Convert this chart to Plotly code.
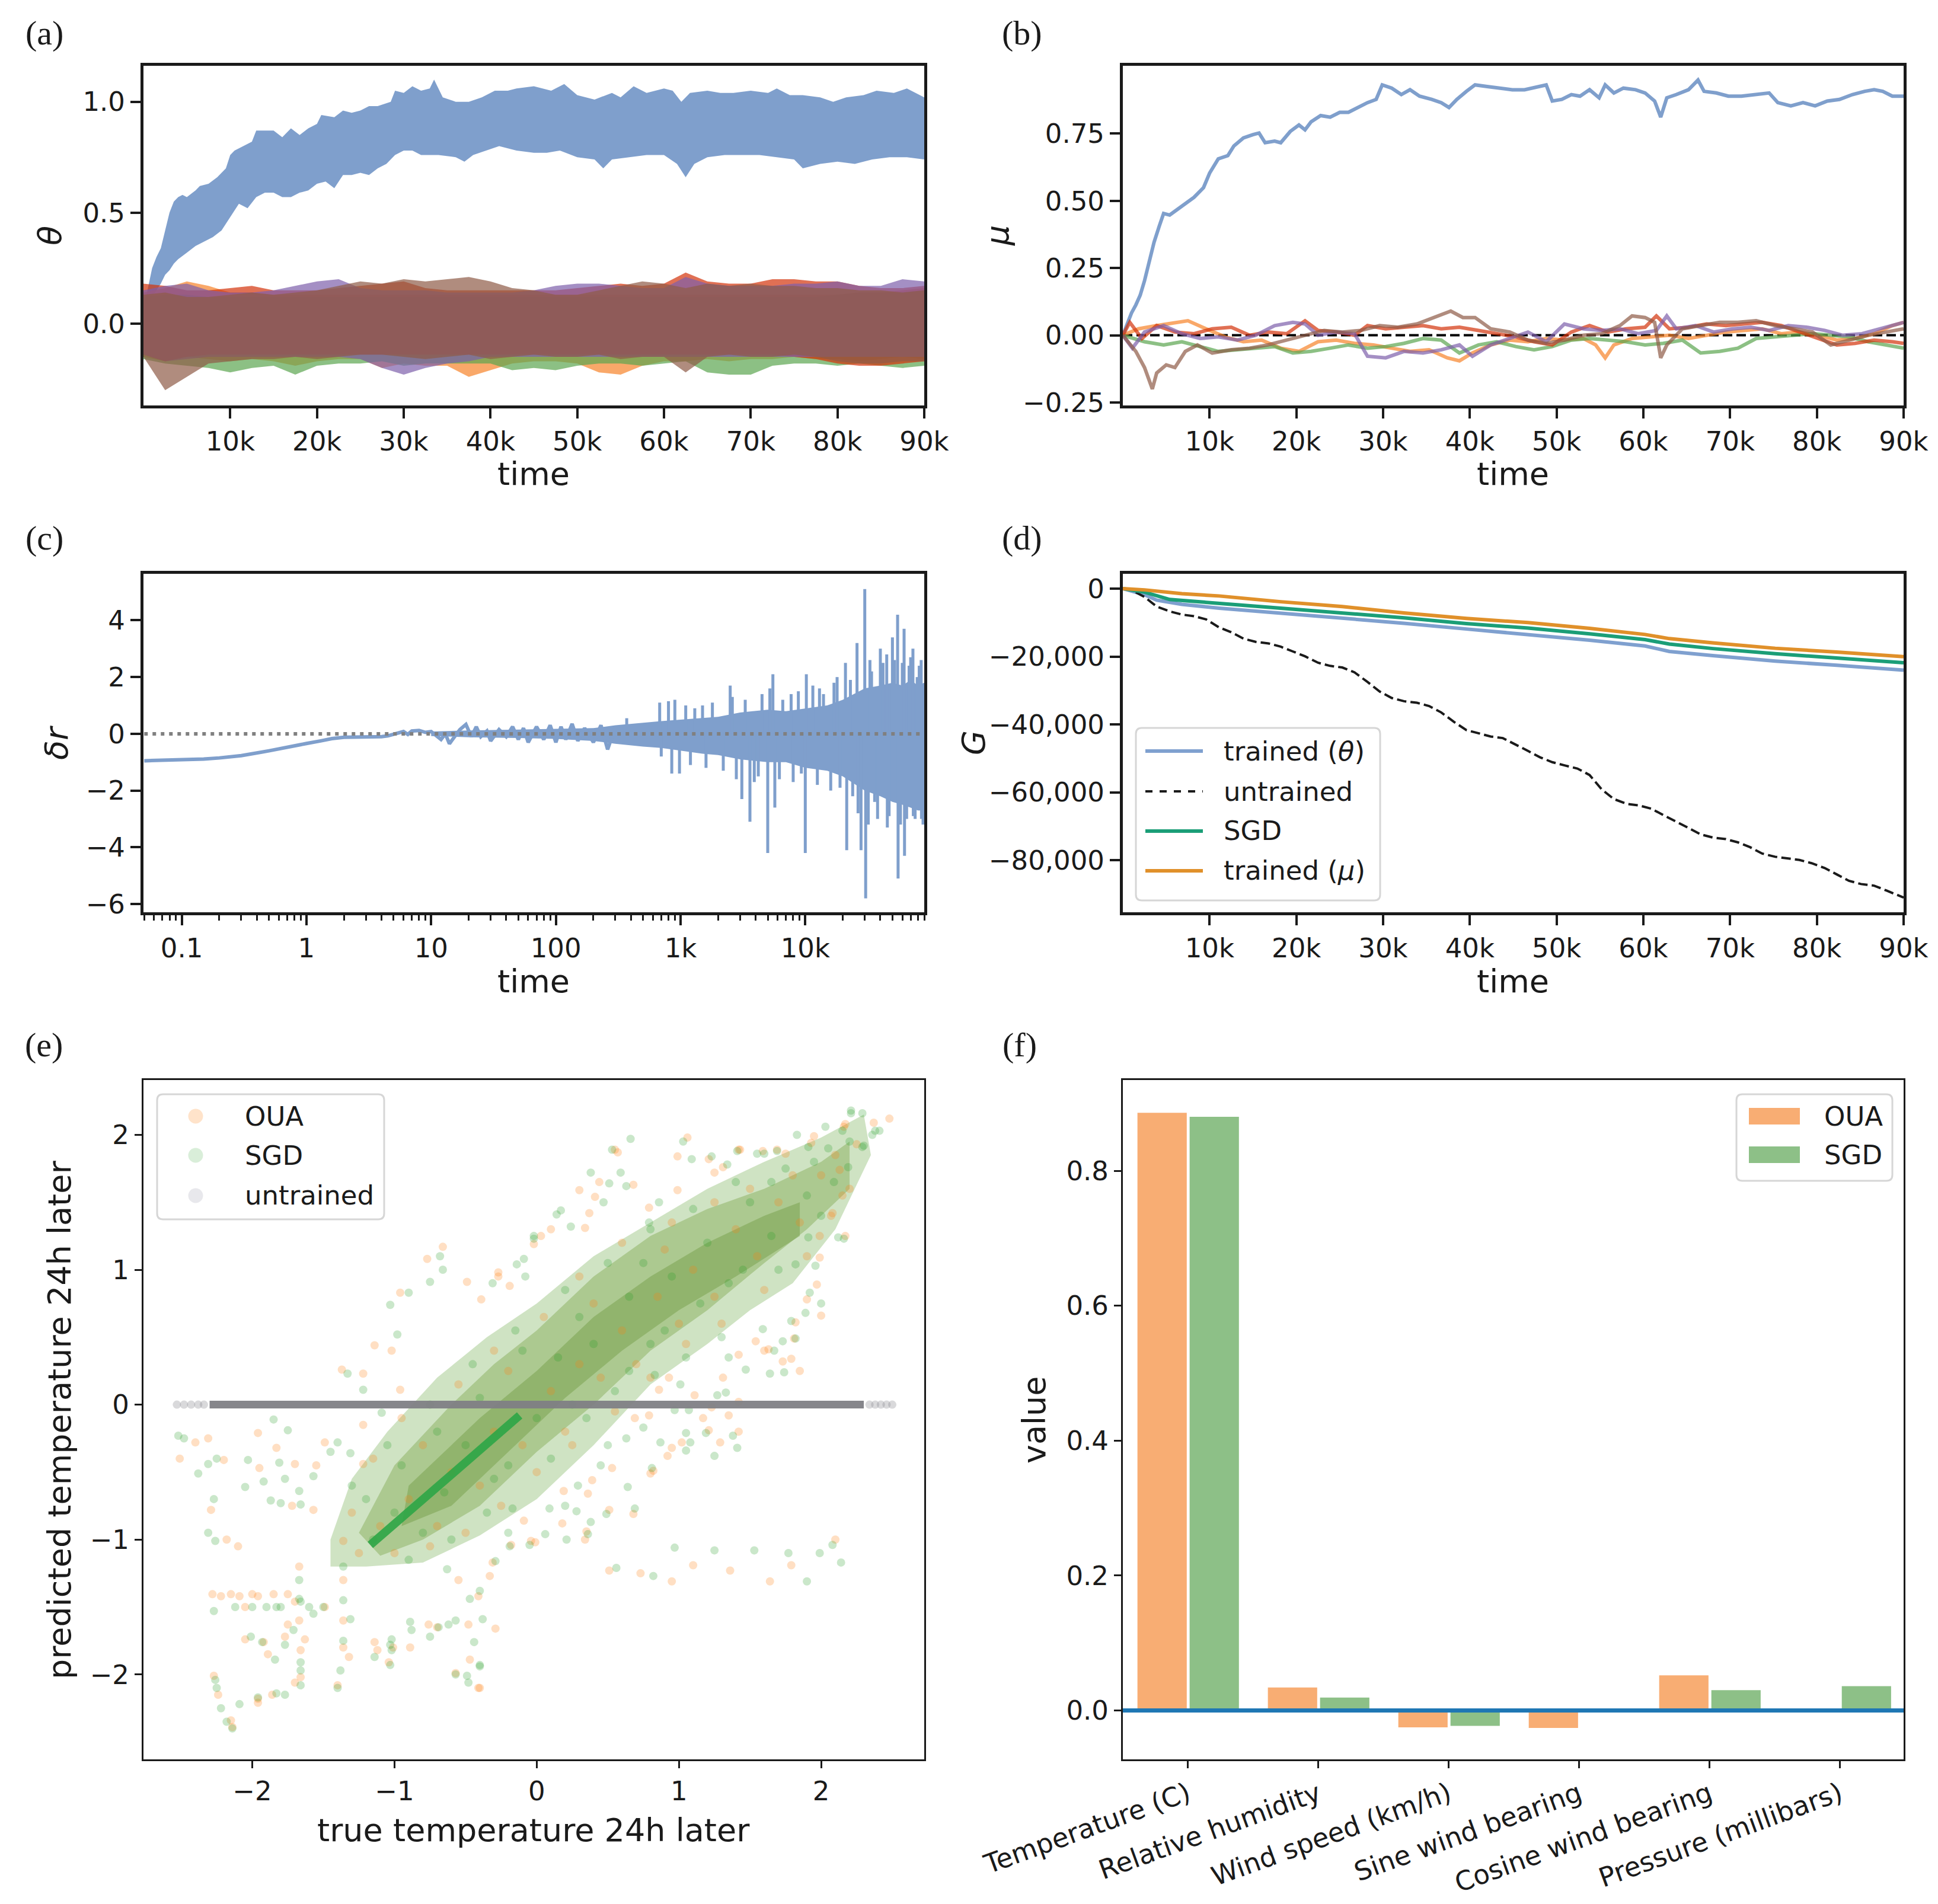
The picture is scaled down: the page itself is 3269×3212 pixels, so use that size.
import plotly.graph_objects as go

W, H = 3269, 3212

# ---------------- data: panel (a) theta ----------------
a_hi_t = [0.3, 1.0, 1.5, 2.0, 2.5, 3.0, 3.5, 4.0, 4.5, 5.0, 6.0, 6.5, 7.5, 8.5, 9.5, 10.0, 10.5, 11.5, 12.5, 13.0,
          14.0, 15.0, 16.0, 17.0, 18.0, 19.0, 20.0, 20.5, 22.0, 23.0, 24.0, 25.0, 26.0, 27.0, 28.5, 29.0, 30.0, 31.0,
          32.0, 33.0, 33.5, 34.5, 36.0, 37.5, 39.0, 40.5, 42.0, 43.0, 45.0, 47.0, 48.5, 50.0, 52.0, 54.0, 55.0, 56.5,
          58.0, 60.0, 61.0, 62.0, 63.0, 65.0, 66.5, 68.0, 70.0, 72.0, 73.0, 74.5, 76.0, 78.0, 79.5, 81.0, 83.0, 84.5,
          86.5, 88.0, 89.0, 90.0]
a_hi = [0.12, 0.25, 0.30, 0.34, 0.42, 0.50, 0.55, 0.57, 0.58, 0.57, 0.60, 0.62, 0.63, 0.66, 0.70, 0.76, 0.78, 0.80, 0.82, 0.87,
        0.87, 0.87, 0.84, 0.88, 0.85, 0.88, 0.90, 0.94, 0.93, 0.96, 0.95, 0.96, 0.98, 0.98, 1.00, 1.05, 1.04, 1.07,
        1.05, 1.06, 1.10, 1.02, 1.00, 1.00, 1.02, 1.05, 1.05, 1.06, 1.07, 1.05, 1.08, 1.03, 1.01, 1.04, 1.02, 1.07,
        1.04, 1.06, 1.05, 1.00, 1.04, 1.05, 1.04, 1.04, 1.05, 1.04, 1.06, 1.03, 1.03, 1.02, 1.00, 1.02, 1.03, 1.05,
        1.04, 1.06, 1.04, 1.02]
a_lo_t = [0.3, 1.0, 1.5, 2.0, 2.5, 3.0, 3.5, 4.0, 5.0, 6.0, 7.0, 8.0, 9.0, 10.0, 11.0, 12.0, 13.0, 14.0, 15.0, 16.0,
          17.0, 18.0, 19.0, 20.0, 21.0, 22.0, 23.0, 24.0, 25.0, 26.0, 27.0, 28.0, 29.0, 30.0, 31.0, 32.0, 34.0, 36.0,
          37.0, 38.0, 39.5, 41.0, 43.0, 45.0, 46.5, 48.0, 50.0, 52.0, 53.0, 54.0, 56.0, 58.0, 60.0, 61.5, 62.5, 63.5,
          65.0, 67.0, 69.0, 71.0, 73.0, 75.0, 76.0, 78.0, 80.0, 82.0, 84.0, 86.0, 88.0, 90.0]
a_lo = [0.10, 0.12, 0.15, 0.18, 0.22, 0.24, 0.27, 0.29, 0.32, 0.35, 0.37, 0.39, 0.42, 0.48, 0.54, 0.52, 0.57, 0.59, 0.59, 0.57,
        0.57, 0.59, 0.60, 0.63, 0.64, 0.61, 0.67, 0.67, 0.68, 0.67, 0.70, 0.72, 0.76, 0.78, 0.78, 0.76, 0.76, 0.75,
        0.73, 0.76, 0.78, 0.80, 0.78, 0.77, 0.77, 0.78, 0.75, 0.74, 0.70, 0.74, 0.75, 0.76, 0.76, 0.72, 0.66, 0.72,
        0.75, 0.76, 0.76, 0.76, 0.75, 0.74, 0.70, 0.72, 0.73, 0.72, 0.74, 0.75, 0.75, 0.74]

a_t = [0, 2.5, 5, 7.5, 10, 12.5, 15, 17.5, 20, 22.5, 25, 27.5, 30, 32.5, 35, 37.5, 40, 42.5, 45, 47.5, 50, 52.5,
       55, 57.5, 60, 62.5, 65, 67.5, 70, 72.5, 75, 77.5, 80, 82.5, 85, 87.5, 90]
a_orange_hi = [.14, .16, .19, .17, .14, .14, .13, .13, .13, .13, .13, .13, .13, .13, .13, .13, .13, .13, .13, .13, .13, .13,
               .13, .13, .13, .13, .13, .13, .13, .13, .13, .13, .13, .14, .14, .15, .16]
a_orange_lo = [-.15, -.17, -.15, -.16, -.17, -.16, -.17, -.19, -.17, -.16, -.16, -.20, -.18, -.19, -.19, -.24, -.21, -.18,
               -.17, -.17, -.18, -.22, -.23, -.19, -.17, -.17, -.16, -.17, -.16, -.16, -.15, -.16, -.16, -.17, -.16, -.15, -.16]
a_green_hi = [.12, .13, .13, .12, .12, .12, .12, .12, .12, .12, .12, .12, .12, .12, .12, .12, .12, .12, .12, .12, .12, .12,
              .12, .12, .12, .12, .12, .12, .12, .12, .12, .12, .13, .14, .14, .14, .15]
a_green_lo = [-.16, -.18, -.19, -.20, -.22, -.20, -.19, -.23, -.19, -.18, -.18, -.17, -.19, -.18, -.18, -.18, -.18, -.21,
              -.20, -.21, -.19, -.18, -.18, -.19, -.18, -.17, -.22, -.23, -.23, -.19, -.18, -.18, -.19, -.18, -.19, -.20, -.19]
a_red_hi = [.18, .17, .15, .15, .16, .17, .15, .15, .15, .16, .17, .18, .19, .16, .15, .15, .15, .15, .15, .15, .16, .17,
            .18, .17, .18, .23, .19, .18, .18, .20, .20, .19, .19, .17, .16, .16, .17]
a_red_lo = [-.14, -.17, -.15, -.14, -.14, -.14, -.14, -.14, -.14, -.14, -.14, -.14, -.14, -.14, -.14, -.14, -.14, -.14,
            -.14, -.14, -.14, -.14, -.14, -.14, -.14, -.14, -.14, -.14, -.14, -.14, -.15, -.16, -.18, -.19, -.19, -.18, -.17]
a_purple_hi = [.15, .17, .18, .15, .14, .14, .15, .17, .19, .20, .16, .15, .15, .15, .14, .14, .14, .14, .15, .17, .18, .18,
               .17, .16, .16, .21, .18, .17, .17, .17, .18, .18, .19, .17, .17, .20, .19]
a_purple_lo = [-.14, -.17, -.16, -.15, -.15, -.15, -.15, -.15, -.15, -.15, -.16, -.20, -.23, -.20, -.18, -.17, -.15, -.15,
               -.15, -.15, -.15, -.15, -.15, -.15, -.15, -.15, -.15, -.15, -.15, -.15, -.15, -.15, -.15, -.15, -.15, -.15, -.15]
a_brown_hi = [.13, .14, .12, .12, .13, .14, .13, .14, .15, .17, .19, .18, .20, .19, .20, .21, .19, .16, .15, .13, .13, .15,
              .17, .19, .18, .16, .18, .17, .18, .17, .17, .16, .16, .15, .15, .14, .15]
a_brown_lo = [-.15, -.30, -.24, -.18, -.17, -.16, -.16, -.15, -.16, -.15, -.14, -.14, -.15, -.16, -.15, -.14, -.16, -.15,
              -.14, -.15, -.15, -.14, -.16, -.15, -.15, -.22, -.15, -.14, -.15, -.15, -.14, -.15, -.17, -.18, -.18, -.17, -.17]

# ---------------- data: panel (b) mu ----------------
b_blue_t = [0, 0.4, 1, 1.5, 2, 2.5, 3.1, 3.6, 4.2, 4.7, 5.4, 6.2, 7.2, 8.2, 9.3, 10, 11, 12.1, 12.8, 13.9, 15, 15.7,
            16.4, 17.5, 18.2, 19.3, 20.3, 21, 21.7, 22.8, 23.9, 25, 26, 27.1, 28.2, 29.2, 29.9, 31, 32.1, 33.1, 34.2,
            35.6, 36.7, 37.6, 38.5, 39.6, 40.6, 42, 43.5, 44.9, 46.3, 47.8, 48.8, 49.5, 50.6, 51.7, 52.7, 53.8, 54.9,
            55.6, 56.6, 57.7, 59.1, 60.2, 61.3, 62, 62.7, 63.8, 65.2, 66.3, 67, 68.4, 69.8, 71.3, 72.7, 74.5, 75.5, 77,
            78.4, 79.8, 81.2, 82.6, 84.1, 85.5, 86.6, 87.6, 88.7, 90]
b_blue = [0.0, 0.036, 0.083, 0.113, 0.149, 0.203, 0.286, 0.346, 0.406, 0.453, 0.447, 0.465, 0.489, 0.513, 0.549, 0.603,
          0.656, 0.668, 0.704, 0.734, 0.746, 0.752, 0.716, 0.722, 0.716, 0.758, 0.782, 0.764, 0.794, 0.817, 0.811, 0.829,
          0.829, 0.847, 0.865, 0.877, 0.931, 0.919, 0.895, 0.913, 0.889, 0.877, 0.865, 0.847, 0.877, 0.907, 0.931, 0.925,
          0.919, 0.913, 0.913, 0.925, 0.931, 0.871, 0.877, 0.895, 0.889, 0.913, 0.883, 0.931, 0.901, 0.919, 0.913, 0.901,
          0.871, 0.811, 0.883, 0.895, 0.913, 0.949, 0.907, 0.901, 0.889, 0.889, 0.895, 0.901, 0.865, 0.853, 0.865, 0.853,
          0.871, 0.877, 0.895, 0.907, 0.913, 0.907, 0.889, 0.889]
b_orange_t = [0, 1.8, 3.9, 6, 7.5, 9.6, 11.8, 13.9, 16, 18.2, 20.3, 22.5, 24.6, 26.7, 28.9, 31, 33.1, 35.3, 37.4, 38.8,
              40.3, 42.4, 44.6, 46.7, 48.8, 50.9, 53.1, 54.5, 55.6, 56.6, 58.7, 60.9, 63, 65.2, 67.3, 69.5, 71.6, 73.7,
              75.9, 78, 80.2, 82.3, 84.4, 86.6, 88.7, 90]
b_orange = [0, 0.024, 0.036, 0.048, 0.054, 0.024, -0.006, -0.024, -0.018, -0.048, -0.06, -0.024, -0.018, -0.03, -0.036,
            -0.048, -0.06, -0.054, -0.084, -0.095, -0.066, -0.036, -0.018, -0.024, -0.012, -0.018, -0.012, -0.036, -0.084,
            -0.036, -0.012, -0.006, 0.0, -0.012, 0.0, 0.012, 0.018, 0.024, 0.006, 0.012, 0.0, -0.018, -0.012, 0.006, 0.036, 0.048]
b_green_t = [0, 2.5, 4.7, 6.8, 8.9, 11, 13.2, 15.3, 17.5, 19.6, 21.7, 23.9, 26, 28.2, 30.3, 32.4, 34.6, 36.7, 38.8, 41,
             43.1, 45.3, 47.4, 49.5, 51.7, 53.8, 55.9, 58, 60.2, 62.3, 64.5, 66.6, 68.8, 70.9, 73, 75.2, 77.3, 79.5, 81.6,
             83.7, 85.9, 88, 90]
b_green = [0, -0.024, -0.036, -0.024, -0.042, -0.06, -0.054, -0.048, -0.042, -0.066, -0.06, -0.048, -0.036, -0.048, -0.042,
           -0.03, -0.012, -0.018, -0.066, -0.036, -0.024, -0.042, -0.054, -0.042, -0.018, -0.012, -0.018, -0.024, -0.036,
           -0.03, -0.018, -0.066, -0.06, -0.048, -0.012, -0.006, 0.0, 0.006, 0.0, -0.006, -0.024, -0.036, -0.048]
b_red_t = [0, 0.8, 2.2, 3.9, 6, 8.2, 10.3, 12.5, 14.6, 16.7, 18.9, 21, 22.5, 24.6, 26.7, 28.2, 30.3, 32.4, 34.6, 36.7,
           38.8, 41, 43.1, 45.3, 47.4, 49.5, 51.7, 53.8, 55.9, 58, 60.2, 61.5, 63, 65.2, 67.3, 69.5, 71.6, 73.7, 75.9, 78,
           80.2, 82.3, 84.4, 86.6, 88.7, 90]
b_red = [0, 0.048, -0.012, 0.036, 0.012, 0.006, 0.024, 0.03, 0.0, 0.012, 0.006, 0.054, 0.018, 0.012, 0.0, 0.036, 0.024,
         0.03, 0.036, 0.024, 0.03, 0.018, 0.006, -0.006, -0.024, -0.036, 0.012, 0.036, 0.012, 0.024, 0.03, 0.072, 0.024,
         0.03, 0.042, 0.036, 0.042, 0.048, 0.036, 0.012, -0.012, -0.036, -0.03, -0.018, -0.024, -0.03]
b_purple_t = [0, 1.1, 2.5, 4.7, 6.8, 8.9, 11, 13.2, 15.3, 17.5, 19.6, 21, 22.5, 24.6, 26.7, 28.2, 30.3, 32.4, 34.6, 36.7,
              38.8, 40.3, 42.4, 44.6, 46.7, 48.8, 50.9, 53.1, 55.2, 57.3, 59.4, 61.5, 62.7, 63.8, 66, 68.1, 70.3, 72.4,
              74.5, 76.7, 78.8, 80.9, 83, 85.2, 87.3, 90]
b_purple = [0, -0.048, 0.012, 0.036, 0.006, -0.012, -0.006, -0.018, 0.0, 0.036, 0.048, 0.042, 0.0, 0.012, 0.006, -0.078,
            -0.084, -0.06, -0.066, -0.054, -0.036, -0.078, -0.036, -0.012, 0.012, -0.024, 0.042, 0.024, 0.018, 0.024, 0.006,
            0.018, 0.072, 0.024, 0.036, 0.012, 0.024, 0.03, 0.018, 0.036, 0.03, 0.018, 0.0, 0.006, 0.024, 0.048]
b_brown_t = [0, 1.5, 2.5, 3.4, 3.9, 5, 6, 7.2, 8.6, 10.3, 12.5, 14.6, 16.7, 18.9, 21, 23.2, 25.3, 27.4, 29.6, 31.7, 33.9,
             36, 37.8, 39.2, 40.6, 42.4, 44.6, 46.7, 48.8, 50.9, 53.1, 55.2, 57.3, 58.7, 60.2, 61.3, 62, 62.7, 64.5, 66.6,
             68.8, 70.9, 73, 75.2, 77.3, 79.5, 81.6, 83.7, 85.9, 88, 90]
b_brown = [0, -0.06, -0.12, -0.2, -0.14, -0.11, -0.12, -0.06, -0.036, -0.066, -0.054, -0.048, -0.036, -0.018, 0.0, 0.018,
           0.012, 0.018, 0.036, 0.03, 0.042, 0.066, 0.09, 0.066, 0.066, 0.024, 0.012, -0.018, -0.03, -0.018, 0.0, 0.006,
           0.036, 0.072, 0.066, 0.048, -0.084, -0.036, 0.024, 0.036, 0.048, 0.048, 0.054, 0.036, 0.024, 0.012, -0.036,
           -0.018, 0.0, 0.012, 0.024]
b_true_t = [0, 90]
b_true = [0, 0]

# ---------------- data: panel (c) delta r ----------------
c_t = [0.05, 0.07, 0.1, 0.15, 0.2, 0.3, 0.5, 0.7, 1.0, 1.3, 1.6, 2.0, 2.5, 3.0, 3.5, 4.0, 4.5, 5, 6, 6.5,
       7, 8, 9, 10, 11, 12, 13, 14, 17, 19, 21, 23, 25, 28, 30, 35, 40, 45, 50, 55,
       60, 70, 80, 90, 100, 110, 120, 135, 150, 170, 200, 230, 260, 300]
c_v = [-0.95, -0.94, -0.93, -0.89, -0.85, -0.77, -0.6, -0.46, -0.34, -0.25, -0.17, -0.12, -0.12, -0.11, -0.13, -0.1,
       -0.07, -0.02, 0.08, -0.02, 0.1, 0.12, 0.05, 0.08, -0.05, -0.2, 0.0, -0.35, 0.15, 0.33, -0.1, 0.25, -0.1, 0.1,
       -0.25, 0.15, -0.1, 0.25, -0.2, 0.2, -0.3, 0.25, -0.2, 0.3, -0.3, 0.25, -0.2, 0.35, -0.25, 0.2, -0.3, 0.3, -0.55, 0.25]
c_band_t = [10, 20, 50, 100, 200, 300, 500, 700, 1000, 1500, 2000, 3000, 5000, 7000, 10000, 15000, 20000, 30000,
            40000, 50000, 60000, 70000, 80000, 90000]
c_band_hi = [0.08, 0.12, 0.15, 0.18, 0.2, 0.3, 0.4, 0.45, 0.5, 0.55, 0.6, 0.75, 0.85, 0.8, 0.9, 1.0, 1.2, 1.6, 1.7,
             1.8, 1.7, 1.9, 1.7, 1.8]
c_band_lo = [-0.08, -0.12, -0.15, -0.18, -0.25, -0.35, -0.45, -0.5, -0.6, -0.7, -0.75, -0.9, -1.0, -1.0, -1.2, -1.3,
             -1.5, -2.0, -2.2, -2.4, -2.5, -2.6, -2.7, -2.7]
c_spike_t = [370, 680, 700, 800, 850, 900, 980, 1100, 1200, 1300, 1500, 1600, 1800, 2200, 2500, 2600, 2800, 3100,
             3300, 3600, 3900, 4200, 4500, 5000, 5200, 5500, 5700, 6200, 6600, 7700, 8000, 8800, 9300, 10000, 10200,
             11500, 12500, 13000, 14000, 16000, 17000, 18000, 19000, 21000, 21500, 23000, 24000, 26000, 26500, 28000,
             30000, 30500, 32000, 33000, 34000, 36000, 38000, 40000, 42000, 45000, 45500, 47000, 50000, 52000, 55000,
             55500, 58000, 60000, 62000, 62500, 65000, 68000, 70000, 73000, 73500, 76000, 79000, 82000, 85000, 85500,
             88000]
c_spike_v = [0.55, 1.1, -0.8, 1.15, -1.4, 1.2, -1.4, 1.0, -1.1, 0.9, 1.0, -1.2, 1.1, -1.3, 1.7, 1.3, -1.6, -2.3,
             1.2, -3.1, -1.7, -1.5, 1.4, -4.2, 1.6, 2.1, -2.6, -1.6, 1.2, 1.4, -1.7, 1.5, -1.4, -4.2, 2.1,
             1.7, -1.8, 1.6, 1.4, -2.0, 1.8, 2.0, -1.9, 2.5, -4.1, 1.9, -2.2, 3.2, -2.8, -4.1,
             5.1, -5.8, -3.2, 2.6, 2.2, -2.4, -3.0, 3.0, 2.5, 2.8, -3.3, -2.9, 3.4, 2.6, 4.2,
             -5.1, -3.2, 2.5, 3.7, -4.3, -3.0, 2.4, 2.7, 3.0, -2.9, -3.0, 2.0, 2.4, 2.6, -3.0,
             -3.2]

# ---------------- data: panel (d) G ----------------
d_untr_t = [0, 1.1, 2.5, 3.9, 5.4, 6.8, 8.2, 9.6, 11.1, 12.5, 13.9, 15.3, 16.8, 18.2, 19.6, 21, 22.5, 23.9, 25.3, 26.7,
            28.2, 29.6, 31, 32.4, 33.9, 35.3, 36.7, 38.2, 39.6, 41, 42.4, 43.8, 45.3, 46.7, 48.1, 49.5, 50.9, 52.4, 53.8,
            55.2, 56.6, 58.1, 59.5, 60.9, 62.3, 63.8, 65.2, 66.6, 68, 69.5, 70.9, 72.3, 73.7, 75.2, 76.6, 78, 79.4, 80.9,
            82.3, 83.7, 85.1, 86.6, 88, 90]
d_untr = [0, -570, -2460, -5290, -6700, -7650, -8120, -9070, -11430, -12850, -14730, -15680, -16150, -17100, -18510,
          -19930, -21820, -22760, -23230, -24650, -27480, -30310, -32210, -33150, -33620, -34570, -36460, -39290, -41650,
          -42600, -43540, -44010, -45900, -47790, -49680, -51100, -52040, -52990, -54880, -59130, -61960, -63380, -63850,
          -64790, -66680, -68570, -70460, -72350, -73290, -73760, -74710, -76130, -78010, -78960, -79430, -79900, -80850,
          -82270, -84150, -86040, -86990, -87460, -88880, -90960]
d_theta_t = [0, 2.5, 3.9, 6.8, 11.1, 18.2, 25.3, 32.4, 39.6, 46.7, 53.8, 60.2, 63, 68, 75.2, 82.3, 90]
d_theta = [0, -1800, -3400, -4630, -5760, -7180, -8600, -10200, -11900, -13500, -15200, -16900, -18500, -19740, -21350,
           -22570, -23990]
d_sgd_t = [0, 2.5, 5.4, 11.1, 18.2, 25.3, 32.4, 39.6, 46.7, 53.8, 60.2, 63, 68, 75.2, 82.3, 90]
d_sgd = [0, -1040, -3210, -4340, -5760, -7180, -8600, -10300, -11620, -13320, -15020, -16340, -17660, -19170, -20400, -21820]
d_mu_t = [0, 2.5, 6.8, 11.1, 18.2, 25.3, 32.4, 39.6, 46.7, 53.8, 60.2, 63, 68, 75.2, 82.3, 90]
d_mu = [0, -380, -1510, -2170, -3870, -5290, -7180, -8780, -10010, -11710, -13510, -14730, -15960, -17570, -18700, -20020]

# ---------------- data: panel (e) scatter (true, predicted) ----------------
e_oua_pts = [
    (2.48, 2.12), (2.16, 2.06), (1.95, 1.99), (1.69, 1.89), (1.42, 1.89), (1.21, 1.82), (1.06, 1.98), (0.55, 1.89),
    (0.30, 1.59), (0.03, 1.25), (-0.27, 0.95), (1.99, 1.25), (2.08, 1.42), (1.90, 0.78), (1.73, 0.32), (1.60, 0.40),
    (1.42, 0.02), (1.21, -0.19), (0.95, -0.32), (0.82, -0.49), (0.51, -0.78), (0.34, -1.0), (-0.01, -1.02),
    (-0.18, -1.04), (-0.31, -1.17), (2.37, 2.09), (2.17, 2.08), (2.25, 1.93), (2.13, 1.74), (2.15, 1.55), (2.17, 1.25),
    (2.07, 1.40), (1.99, 1.09), (1.97, 0.89), (2.0, 0.66), (1.82, 0.61), (1.85, 0.25), (1.79, 0.34), (1.63, 0.41),
    (1.81, 0.49), (1.54, 0.47), (1.42, 0.37), (1.31, 0.20), (1.35, -0.08), (1.29, -0.28), (1.42, -0.20), (1.02, -0.28),
    (0.92, -0.38), (0.80, -0.51), (0.68, -0.81), (0.35, -0.94), (1.11, 0.07), (1.17, -0.10), (1.23, -0.02),
    (0.79, -0.08), (0.69, -0.10), (0.86, 0.11), (0.93, 0.20), (0.53, -0.47), (0.39, -0.56), (0.19, -0.64),
    (-0.09, -0.86), (0.57, 1.87), (0.44, 1.65), (0.68, 1.63), (0.41, 1.54), (0.37, 1.42), (0.10, 1.30), (0.34, 1.31),
    (-0.02, 1.19), (-0.27, 0.98), (-0.19, 0.88), (-0.39, 0.78), (0.79, 1.46), (0.99, 1.59), (0.99, 1.84), (1.31, 1.76),
    (1.43, 1.89), (1.59, 1.88), (1.75, 1.86), (1.93, 1.94), (1.25, 1.72),
    (-0.40, -2.1), (-0.57, -1.99), (-0.70, -1.65), (-1.01, -1.8), (-1.14, -1.76), (-1.36, -1.8), (-1.49, -1.5),
    (-1.70, -1.46), (-1.75, -1.63), (-1.70, -2.06), (-1.96, -2.18), (-2.14, -2.39), (-2.27, -2.01), (-1.92, -1.76),
    (-2.05, -1.5), (-2.22, -1.42), (-2.09, -1.42), (-1.96, -1.42), (-2.28, -1.405), (-2.15, -1.405), (-2.0, -1.405),
    (-1.85, -1.405), (-1.75, -1.405), (-2.18, -1.0), (-2.29, -0.78), (-2.51, -0.40), (-2.40, -0.28), (-2.31, -0.25),
    (-1.96, -0.21), (-1.83, -0.32), (-1.70, -0.44), (-1.57, -0.78), (-1.49, -0.28), (-1.22, 0.23), (-1.14, 0.44),
    (-0.96, 0.83), (-0.77, 1.08), (-0.66, 1.17), (-0.49, 0.91), (-0.96, 0.11), (-1.22, -0.15), (-1.22, -0.44),
    (-2.24, -2.15), (-2.15, -2.34), (-2.2, -0.41), (-2.1, -1.05), (-1.95, -0.47), (-1.72, -0.75), (-1.55, -0.45),
    (-1.37, 0.26), (-1.02, 0.40), (-0.48, -1.63), (-0.29, -1.66), (-0.47, -1.89), (-0.41, -2.10), (-0.76, -1.63),
    (-0.89, -1.80), (-1.04, -1.91), (-1.40, -2.08), (-1.32, -1.87), (-1.12, -1.82), (-1.86, -2.15), (-1.96, -2.21),
    (-2.05, -1.74), (-1.89, -1.85), (-1.77, -1.72), (-1.66, -2.02), (-1.66, -1.82), (-1.63, -1.74), (-1.36, -1.01),
    (-1.36, -1.3), (-1.36, -1.6), (-1.67, -1.2), (-1.67, -1.6), (-0.55, -1.3), (-0.41, -1.42), (-0.33, -1.27),
    (-0.04, -1.01), (0.18, -0.88), (0.36, -0.66),
    (0.51, -1.23), (0.73, -1.25), (0.95, -1.31), (1.10, -1.19), (1.36, -1.23), (1.64, -1.31), (1.79, -1.19), (2.10, -1.0),
    (-1.1, -0.9), (-0.9, -0.7), (-0.7, -0.9), (-0.6, -0.5), (-0.4, -0.6), (-0.3, -0.2), (-0.1, -0.3), (0.1, 0.1),
    (0.2, -0.2), (0.3, 0.3), (0.45, 0.2), (0.6, 0.55), (0.7, 0.3), (0.85, 0.8), (1.0, 0.6), (1.1, 1.0), (1.25, 0.8),
    (1.4, 1.3), (1.55, 1.1), (1.7, 1.5), (1.85, 1.35), (2.0, 1.7), (2.1, 1.85), (0.9, 1.15), (0.4, 0.75), (-0.2, 0.25),
    (-0.8, -0.3), (-1.0, -1.1), (-0.75, -1.05), (-0.5, -0.95), (-0.25, -0.75), (0.0, -0.5), (0.25, -0.3), (0.55, -0.05),
    (0.8, 0.2), (1.05, 0.45), (1.3, 0.6), (1.6, 0.85), (1.9, 1.1), (2.2, 1.6), (-0.55, 0.15), (-0.3, 0.4), (0.05, 0.65),
    (0.3, 0.95), (0.6, 1.2), (0.95, 1.35), (1.25, 1.5), (1.5, 1.6), (1.8, 1.7), (-1.25, -1.1), (-1.3, -0.8),
    (-1.15, -0.4), (-0.95, -0.1)]
e_sgd_pts = [
    (2.38, 2.03), (2.29, 1.91), (2.21, 2.16), (2.03, 2.06), (1.83, 2.0), (1.60, 1.86), (1.34, 1.78), (1.03, 1.95),
    (0.86, 1.5), (0.66, 1.97), (0.53, 1.89), (0.38, 1.72), (0.17, 1.44), (-0.02, 1.23), (-0.14, 1.04), (2.16, 1.23),
    (1.82, 1.04), (1.82, 0.49), (1.64, 0.23), (1.38, -0.23), (1.08, -0.28), (0.64, -0.61), (0.38, -0.87), (0.21, -1.0),
    (-0.05, -1.04), (2.21, 2.18), (2.29, 2.16), (2.41, 2.03), (2.36, 2.0), (2.15, 2.03), (2.30, 1.92), (2.19, 1.76),
    (2.09, 1.65), (2.12, 1.24), (1.91, 1.24), (1.96, 1.03), (1.92, 0.83), (2.0, 0.75), (1.89, 0.68), (1.79, 0.62),
    (1.74, 0.24), (1.67, 0.40), (1.73, 0.47), (1.59, 0.56), (1.47, 0.26), (1.35, 0.35), (1.33, 0.09), (1.25, -0.38),
    (1.19, -0.21), (1.41, -0.32), (1.05, -0.34), (0.87, -0.28), (0.81, -0.47), (0.69, -0.77), (0.49, -0.81),
    (1.01, 0.15), (1.07, -0.04), (1.27, 0.07), (1.05, -0.21), (0.75, -0.17), (0.97, -0.04), (0.83, 0.22),
    (0.63, -0.25), (0.45, -0.45), (0.29, -0.60), (0.09, -0.77), (-0.17, -0.77), (0.63, 1.62), (0.59, 1.72),
    (0.51, 1.64), (0.47, 1.50), (0.14, 1.41), (0.24, 1.32), (-0.02, 1.25), (-0.09, 1.08), (-0.08, 0.95), (-0.31, 0.90),
    (0.79, 1.35), (1.09, 1.82), (1.23, 1.84), (1.41, 1.88), (1.55, 1.86), (1.69, 1.88), (1.91, 1.91),
    (-0.40, -1.38), (-0.44, -1.76), (-0.40, -1.93), (-0.49, -2.01), (-0.62, -1.63), (-0.75, -1.72), (-0.88, -1.67),
    (-1.03, -1.93), (-1.31, -1.59), (-1.40, -2.1), (-1.57, -1.55), (-1.66, -1.46), (-1.66, -1.97), (-1.83, -2.14),
    (-2.09, -2.22), (-2.18, -2.35), (-2.25, -2.1), (-2.01, -1.72), (-1.83, -1.5), (-2.27, -1.53), (-2.31, -0.95),
    (-2.27, -0.70), (-2.31, -0.44), (-2.48, -0.25), (-2.25, -0.40), (-2.05, -0.61), (-1.92, -0.57), (-1.77, -0.55),
    (-1.66, -0.74), (-1.57, -0.53), (-1.40, -0.28), (-1.33, 0.23), (-1.03, 0.74), (-0.90, 0.83), (-0.68, 1.1),
    (-0.66, 1.0), (-0.75, 0.91), (-1.09, -0.06), (-1.31, -0.36), (-2.12, -1.50), (-2.0, -1.50), (-1.9, -1.50),
    (-1.8, -1.50), (-1.6, -1.50), (-1.5, -1.50), (-2.26, -2.04), (-2.22, -2.25), (-2.14, -2.40), (-2.52, -0.23),
    (-2.38, -0.51), (-2.26, -1.01), (-2.03, -0.41), (-1.87, -0.71), (-1.81, -0.43), (-1.67, -0.64), (-1.85, -0.11),
    (-1.75, -0.19), (-1.8, -0.73), (-1.45, -0.35), (-1.3, -0.6), (-1.22, 0.11), (-0.98, 0.52), (-0.57, -1.6),
    (-0.38, -1.59), (-0.48, -2.06), (-0.40, -1.94), (-0.57, -2.0), (-0.69, -1.65), (-0.89, -1.61), (-1.02, -1.82),
    (-1.14, -1.87), (-1.38, -1.97), (-1.02, -1.74), (-1.03, -1.78), (-1.77, -2.15), (-1.96, -2.17), (-1.93, -1.76),
    (-1.77, -1.78), (-1.84, -1.89), (-1.66, -2.08), (-1.66, -1.91), (-1.71, -1.67), (-1.67, -1.3), (-1.36, -1.2),
    (-1.36, -1.45), (-1.36, -1.75), (-1.67, -1.44), (-0.63, -1.22), (-0.47, -1.44), (-0.29, -1.16), (-0.19, -1.05),
    (0.06, -0.96), (0.28, -0.79), (0.36, -0.96),
    (0.56, -1.21), (0.82, -1.27), (0.97, -1.06), (1.25, -1.08), (1.53, -1.08), (1.77, -1.1), (1.90, -1.31),
    (1.99, -1.1), (2.14, -1.17), (2.08, -1.04),
    (-1.0, -0.8), (-0.8, -0.95), (-0.65, -0.65), (-0.5, -0.3), (-0.35, -0.8), (-0.2, -0.45), (0.0, -0.1), (0.15, 0.35),
    (0.25, 0.0), (0.4, 0.45), (0.55, 0.1), (0.65, 0.8), (0.8, 0.45), (0.95, 0.95), (1.05, 0.35), (1.2, 1.2),
    (1.35, 0.9), (1.5, 1.5), (1.65, 1.25), (1.75, 1.75), (1.9, 1.55), (2.05, 1.9), (2.2, 1.95), (0.75, 1.05),
    (0.3, 0.65), (-0.4, 0.05), (-0.95, -0.45), (1.3, 0.5), (0.5, -0.3), (-0.1, 0.4), (-1.15, -1.0), (-0.9, -1.15),
    (-0.6, -1.0), (-0.3, -0.55), (0.1, -0.4), (0.35, -0.1), (0.65, 0.25), (0.9, 0.55), (1.15, 0.75), (1.45, 1.0),
    (1.7, 1.0), (2.0, 1.4), (-0.7, -0.2), (-0.45, 0.3), (-0.15, 0.55), (0.2, 0.85), (0.5, 1.05), (0.8, 1.3),
    (1.1, 1.45), (1.4, 1.65), (1.65, 1.65), (1.95, 1.8), (-1.2, -0.7), (-1.05, -0.3), (-0.75, 0.0), (0.2, -0.75),
    (-0.2, -0.95)]
# density contours of the point cloud (outer, middle, core)
e_lvl1 = [(-1.45, -1.0), (-1.3, -0.55), (-1.05, -0.2), (-0.7, 0.2), (-0.35, 0.5), (0.0, 0.75), (0.4, 1.1), (0.8, 1.35),
          (1.2, 1.6), (1.6, 1.8), (2.0, 1.98), (2.3, 2.15), (2.35, 1.85), (2.1, 1.3), (1.8, 0.9), (1.5, 0.7),
          (1.2, 0.45), (0.8, 0.15), (0.4, -0.3), (0.0, -0.7), (-0.4, -0.97), (-0.8, -1.17), (-1.2, -1.2), (-1.45, -1.2)]
e_lvl2 = [(-1.25, -0.95), (-1.0, -0.45), (-0.6, 0.0), (-0.3, 0.3), (0.0, 0.55), (0.4, 0.95), (0.8, 1.25), (1.2, 1.45),
          (1.6, 1.6), (2.0, 1.8), (2.2, 1.95), (2.2, 1.6), (1.9, 1.3), (1.6, 1.05), (1.2, 0.7), (0.8, 0.4), (0.4, 0.0),
          (0.0, -0.35), (-0.4, -0.75), (-0.8, -1.0), (-1.1, -1.12)]
e_lvl3 = [(-0.9, -0.6), (-0.4, -0.1), (0.0, 0.25), (0.4, 0.65), (0.8, 0.95), (1.2, 1.2), (1.6, 1.4), (1.85, 1.5),
          (1.85, 1.25), (1.4, 0.95), (1.0, 0.7), (0.6, 0.4), (0.2, 0.05), (-0.2, -0.35), (-0.6, -0.75), (-0.95, -0.9)]
e_diag_x = [-1.17, -0.12]
e_diag_y = [-1.04, -0.08]
e_untr_x = [-2.3, 2.3]
e_untr_y = [0.0, 0.0]
e_untr_tail_x = [-2.53, -2.48, -2.43, -2.38, -2.34, 2.34, 2.38, 2.42, 2.46, 2.5]
e_untr_tail_y = [0.0] * 10

# ---------------- data: panel (f) bars ----------------
f_features = ["Temperature (C)", "Relative humidity", "Wind speed (km/h)", "Sine wind bearing",
              "Cosine wind bearing", "Pressure (millibars)"]
f_oua = [0.886, 0.034, -0.025, -0.026, 0.052, 0.0]
f_sgd = [0.880, 0.019, -0.023, 0.0, 0.030, 0.036]


# ---------------- helpers ----------------
def px_x(p):
    return p / W


def px_y(p):
    return 1 - p / H


def k(ts):
    return [t * 1000 for t in ts]


INK = "#1a1a1a"
TICKFONT = dict(family="DejaVu Sans", size=45, color=INK)
LABFONT = dict(family="DejaVu Sans", size=54, color=INK)


def axstyle(lw, tl, tw):
    return dict(showline=True, linecolor=INK, linewidth=lw, mirror=True, ticks="outside", ticklen=tl,
                tickwidth=tw, tickcolor=INK, showgrid=False, zeroline=False, tickfont=TICKFONT, automargin=False)


COLX1 = [px_x(234), px_x(1551)]
COLX2 = [px_x(1886), px_x(3203)]
ROW1 = [px_y(676), px_y(103)]
ROW2 = [px_y(1531), px_y(959.5)]
ROW3 = [px_y(2960.4), px_y(1813.8)]

BLUE = "rgba(72,118,182,0.7)"
ORANGE = "rgba(246,131,42,0.7)"
GREEN = "rgba(91,165,80,0.7)"
RED = "rgba(211,51,12,0.7)"
PURPLE = "rgba(126,95,171,0.7)"
BROWN = "rgba(142,91,71,0.7)"

fig = go.Figure()


def band(x_hi, hi, x_lo, lo, color, xa, ya):
    fig.add_trace(go.Scatter(x=list(x_hi) + list(x_lo)[::-1], y=list(hi) + list(lo)[::-1], fill="toself",
                             fillcolor=color, mode="lines", line=dict(width=0), xaxis=xa, yaxis=ya,
                             showlegend=False, hoverinfo="skip"))


# panel (a)
band(k(a_hi_t), a_hi, k(a_lo_t), a_lo, BLUE, "x", "y")
for hi, lo, col in [(a_orange_hi, a_orange_lo, ORANGE), (a_green_hi, a_green_lo, GREEN), (a_red_hi, a_red_lo, RED),
                    (a_purple_hi, a_purple_lo, PURPLE), (a_brown_hi, a_brown_lo, BROWN)]:
    band(k(a_t), hi, k(a_t), lo, col, "x", "y")

# panel (b)
fig.add_trace(go.Scatter(x=k(b_true_t), y=b_true, mode="lines", line=dict(color="black", width=4, dash="16px,7px"),
                         xaxis="x2", yaxis="y2", showlegend=False))
for ts, vs, col in [(b_blue_t, b_blue, BLUE), (b_orange_t, b_orange, ORANGE), (b_green_t, b_green, GREEN),
                    (b_red_t, b_red, RED), (b_purple_t, b_purple, PURPLE), (b_brown_t, b_brown, BROWN)]:
    fig.add_trace(go.Scatter(x=k(ts), y=vs, mode="lines", line=dict(color=col, width=6), xaxis="x2", yaxis="y2",
                             showlegend=False))

# panel (c)
CBLUE = "#7f9fcc"
band(c_band_t, c_band_hi, c_band_t, c_band_lo, CBLUE, "x3", "y3")
fig.add_trace(go.Scatter(x=c_t, y=c_v, mode="lines", line=dict(color=CBLUE, width=6), xaxis="x3", yaxis="y3",
                         showlegend=False))
sx, sy = [], []
for t, v in zip(c_spike_t, c_spike_v):
    sx += [t, t, None]
    sy += [0, v, None]
fig.add_trace(go.Scatter(x=sx, y=sy, mode="lines", line=dict(color=CBLUE, width=5), xaxis="x3", yaxis="y3",
                         showlegend=False, connectgaps=False))
fig.add_trace(go.Scatter(x=[c_t[0], c_band_t[-1]], y=[0, 0], mode="lines",
                         line=dict(color="#808080", width=6, dash="6px,8px"), xaxis="x3", yaxis="y3",
                         showlegend=False))

# panel (d)
D_BLUE, D_GREEN, D_ORANGE = "#7fa0cf", "#1b9e77", "#e0902a"
fig.add_trace(go.Scatter(x=k(d_theta_t), y=d_theta, mode="lines", line=dict(color=D_BLUE, width=6), xaxis="x4",
                         yaxis="y4", showlegend=False))
fig.add_trace(go.Scatter(x=k(d_untr_t), y=d_untr, mode="lines", line=dict(color=INK, width=4, dash="16px,7px"),
                         xaxis="x4", yaxis="y4", showlegend=False))
fig.add_trace(go.Scatter(x=k(d_sgd_t), y=d_sgd, mode="lines", line=dict(color=D_GREEN, width=6), xaxis="x4",
                         yaxis="y4", showlegend=False))
fig.add_trace(go.Scatter(x=k(d_mu_t), y=d_mu, mode="lines", line=dict(color=D_ORANGE, width=6), xaxis="x4",
                         yaxis="y4", showlegend=False))

# panel (e)
for poly, col in [(e_lvl1, "rgba(140,188,112,0.42)"), (e_lvl2, "rgba(128,168,82,0.45)"),
                  (e_lvl3, "rgba(112,156,66,0.45)")]:
    band([p[0] for p in poly], [p[1] for p in poly], [], [], col, "x5", "y5")
fig.add_trace(go.Scatter(x=[p[0] for p in e_oua_pts], y=[p[1] for p in e_oua_pts], mode="markers",
                         marker=dict(size=14, color="rgba(255,127,14,0.25)", line=dict(width=0)),
                         xaxis="x5", yaxis="y5", showlegend=False))
fig.add_trace(go.Scatter(x=[p[0] for p in e_sgd_pts], y=[p[1] for p in e_sgd_pts], mode="markers",
                         marker=dict(size=14, color="rgba(44,160,44,0.25)", line=dict(width=0)),
                         xaxis="x5", yaxis="y5", showlegend=False))
fig.add_trace(go.Scatter(x=e_diag_x, y=e_diag_y, mode="lines", line=dict(color="rgba(45,165,70,0.9)", width=14),
                         xaxis="x5", yaxis="y5", showlegend=False))
fig.add_trace(go.Scatter(x=e_untr_x, y=e_untr_y, mode="lines", line=dict(color="rgba(128,128,133,0.95)", width=13),
                         xaxis="x5", yaxis="y5", showlegend=False))
fig.add_trace(go.Scatter(x=e_untr_tail_x, y=e_untr_tail_y, mode="markers",
                         marker=dict(size=14, color="rgba(130,130,135,0.3)", line=dict(width=0)),
                         xaxis="x5", yaxis="y5", showlegend=False))

# panel (f)
F_OR, F_GR = "#f8ad73", "#8dc087"
cats = list(range(len(f_features)))
fig.add_trace(go.Bar(x=cats, y=f_oua, width=0.378, offset=-0.386, marker=dict(color=F_OR, line=dict(width=0)),
                     xaxis="x6", yaxis="y6", showlegend=False))
fig.add_trace(go.Bar(x=cats, y=f_sgd, width=0.378, offset=0.014, marker=dict(color=F_GR, line=dict(width=0)),
                     xaxis="x6", yaxis="y6", showlegend=False))

# ---------------- axes ----------------
kt = [10000 * i for i in range(1, 10)]
ktxt = ["%dk" % (10 * i) for i in range(1, 10)]
thick = (5, 17, 4)
thin = (3, 12, 3)

layout = dict(
    template="none",
    width=W, height=H, margin=dict(l=0, r=0, t=0, b=0, pad=0, autoexpand=False), paper_bgcolor="white",
    plot_bgcolor="white", barmode="overlay",
    xaxis=dict(domain=COLX1, anchor="y", range=[0, 90000], tickvals=kt, ticktext=ktxt, **axstyle(*thick)),
    yaxis=dict(domain=ROW1, anchor="x", range=[-0.369, 1.162], tickvals=[0, 0.5, 1.0],
               ticktext=["0.0", "0.5", "1.0"], **axstyle(*thick)),
    xaxis2=dict(domain=COLX2, anchor="y2", range=[0, 90000], tickvals=kt, ticktext=ktxt, **axstyle(*thick)),
    yaxis2=dict(domain=ROW1, anchor="x2", range=[-0.261, 1.002], tickvals=[-0.25, 0, 0.25, 0.5, 0.75],
                ticktext=["\u22120.25", "0.00", "0.25", "0.50", "0.75"], **axstyle(*thick)),
    xaxis3=dict(domain=COLX1, anchor="y3", type="log", range=[-1.307, 4.954],
                tickvals=[0.1, 1, 10, 100, 1000, 10000], ticktext=["0.1", "1", "10", "100", "1k", "10k"],
                minor=dict(ticks="outside", ticklen=9, tickwidth=3, tickcolor=INK, dtick="D1", showgrid=False),
                **axstyle(*thick)),
    yaxis3=dict(domain=ROW2, anchor="x3", range=[-6.29, 5.65], tickvals=[-6, -4, -2, 0, 2, 4],
                ticktext=["\u22126", "\u22124", "\u22122", "0", "2", "4"], **axstyle(*thick)),
    xaxis4=dict(domain=COLX2, anchor="y4", range=[0, 90000], tickvals=kt, ticktext=ktxt, **axstyle(*thick)),
    yaxis4=dict(domain=ROW2, anchor="x4", range=[-95300, 4440], tickvals=[0, -20000, -40000, -60000, -80000],
                ticktext=["0", "\u221220,000", "\u221240,000", "\u221260,000", "\u221280,000"], **axstyle(*thick)),
    xaxis5=dict(domain=COLX1, anchor="y5", range=[-2.765, 2.725], tickvals=[-2, -1, 0, 1, 2],
                ticktext=["\u22122", "\u22121", "0", "1", "2"], **axstyle(*thin)),
    yaxis5=dict(domain=ROW3, anchor="x5", range=[-2.631, 2.407], tickvals=[-2, -1, 0, 1, 2],
                ticktext=["\u22122", "\u22121", "0", "1", "2"], **axstyle(*thin)),
    xaxis6=dict(domain=COLX2, anchor="y6", range=[-0.498, 5.488], tickvals=cats, ticktext=f_features,
                tickangle=-20, **axstyle(*thin)),
    yaxis6=dict(domain=ROW3, anchor="x6", range=[-0.0729, 0.9347], tickvals=[0, 0.2, 0.4, 0.6, 0.8],
                ticktext=["0.0", "0.2", "0.4", "0.6", "0.8"], **axstyle(*thin)),
)
fig.update_layout(**layout)

# ---------------- annotations (titles, panel labels) ----------------
ann = []


def text(x, y, s, font, angle=0, xanchor="center", yanchor="middle"):
    ann.append(dict(x=x, y=y, xref="paper", yref="paper", text=s, showarrow=False, font=font, textangle=angle,
                    xanchor=xanchor, yanchor=yanchor))


PANEL = dict(family="Liberation Serif", size=58, color=INK)
for lab, xx, yy in [("(a)", 67, 48), ("(b)", 1716, 48), ("(c)", 67, 899), ("(d)", 1716, 899), ("(e)", 66, 1755),
                    ("(f)", 1712, 1755)]:
    text(px_x(xx), px_y(yy), lab, PANEL)

text(px_x(892), px_y(791), "time", LABFONT)
text(px_x(2544), px_y(791), "time", LABFONT)
text(px_x(892), px_y(1647), "time", LABFONT)
text(px_x(2544), px_y(1647), "time", LABFONT)
text(px_x(892), px_y(3079), "true temperature 24h later", LABFONT)
text(px_x(76), px_y(390), "<i>θ</i>", LABFONT, -90)
text(px_x(1674), px_y(390), "<i>μ</i>", LABFONT, -90)
text(px_x(87), px_y(1245), "<i>δr</i>", LABFONT, -90)
text(px_x(1634), px_y(1245), "<i>G</i>", LABFONT, -90)
text(px_x(92), px_y(2387), "predicted temperature 24h later", LABFONT, -90)
text(px_x(1736), px_y(2387), "value", LABFONT, -90)

# ---------------- legends (drawn by hand) ----------------
shapes = []


def rrect(x0p, y0p, x1p, y1p, r=10):
    x0, x1 = px_x(x0p), px_x(x1p)
    yt, yb = px_y(y0p), px_y(y1p)
    rx, ry = r / W, r / H
    path = (f"M {x0 + rx},{yt} L {x1 - rx},{yt} Q {x1},{yt} {x1},{yt - ry} L {x1},{yb + ry} "
            f"Q {x1},{yb} {x1 - rx},{yb} L {x0 + rx},{yb} Q {x0},{yb} {x0},{yb + ry} L {x0},{yt - ry} "
            f"Q {x0},{yt} {x0 + rx},{yt} Z")
    shapes.append(dict(type="path", path=path, xref="paper", yref="paper", fillcolor="rgba(255,255,255,0.8)",
                       line=dict(color="#d6d6d6", width=3)))


LEGFONT = dict(family="DejaVu Sans", size=45, color=INK)

# legend (d)
rrect(1908, 1220, 2320, 1511)
for yy, col, dash, lab in [(1259, D_BLUE, "solid", "trained (<i>θ</i>)"), (1327, INK, "dash", "untrained"),
                           (1394, D_GREEN, "solid", "SGD"), (1461, D_ORANGE, "solid", "trained (<i>μ</i>)")]:
    shapes.append(dict(type="line", xref="paper", yref="paper", x0=px_x(1924), x1=px_x(2021), y0=px_y(yy),
                       y1=px_y(yy), line=dict(color=col, width=6 if dash == "solid" else 4, dash=dash)))
    text(px_x(2054), px_y(yy), lab, LEGFONT, xanchor="left")

# legend (e)
rrect(257, 1838, 640, 2049)
for yy, col, lab in [(1875, "rgba(255,127,14,0.22)", "OUA"), (1941, "rgba(44,160,44,0.18)", "SGD"),
                     (2009, "rgba(130,130,150,0.18)", "untrained")]:
    shapes.append(dict(type="circle", xref="paper", yref="paper", x0=px_x(322 - 12.5), x1=px_x(322 + 12.5),
                       y0=px_y(yy + 12.5), y1=px_y(yy - 12.5), fillcolor=col, line=dict(width=0)))
    text(px_x(403), px_y(yy), lab, LEGFONT, xanchor="left")

# legend (f)
rrect(2921, 1838, 3184, 1984)
for yy, col, lab in [(1875, F_OR, "OUA"), (1940, F_GR, "SGD")]:
    shapes.append(dict(type="rect", xref="paper", yref="paper", x0=px_x(2942), x1=px_x(3028), y0=px_y(yy + 14),
                       y1=px_y(yy - 14), fillcolor=col, line=dict(width=0)))
    text(px_x(3067), px_y(yy), lab, LEGFONT, xanchor="left")

# zero line in (f)
shapes.append(dict(type="line", xref="x6 domain", yref="y6", x0=0, x1=1, y0=0, y1=0,
                   line=dict(color="#1f77b4", width=7)))

fig.update_layout(annotations=ann, shapes=shapes)
fig.write_html("out.html")
